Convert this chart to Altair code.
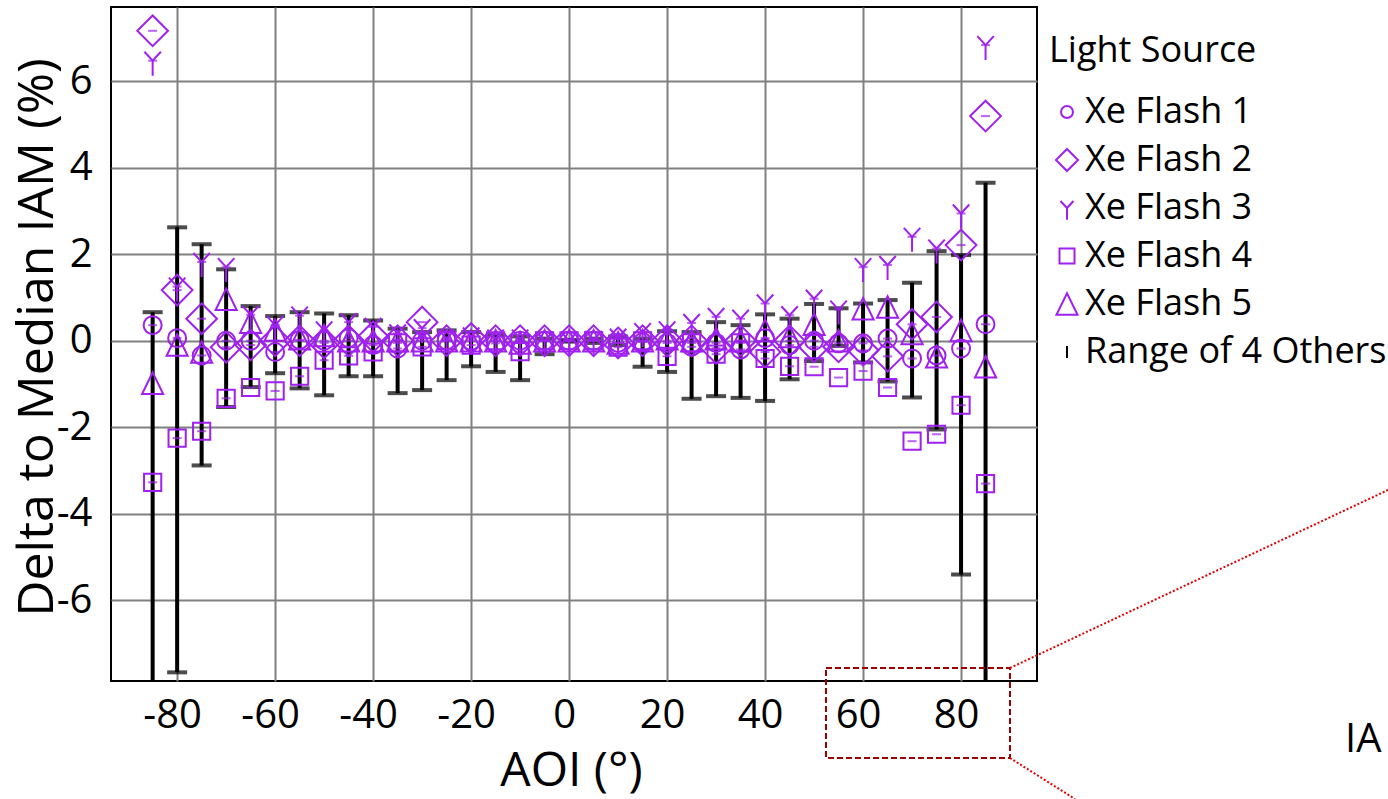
import altair as alt
import pandas as pd

FONT = "Open Sans"
PURPLE = "#a020f0"

# Angle of incidence (degrees)
aoi = [-85, -80, -75, -70, -65, -60, -55, -50, -45, -40, -35, -30, -25, -20, -15, -10, -5, 0,
       5, 10, 15, 20, 25, 30, 35, 40, 45, 50, 55, 60, 65, 70, 75, 80, 85]

# Delta to median IAM (%) for each light source
flash_1 = [0.36, 0.06, -0.34, 0.00, 0.00, -0.26, 0.02, 0.00, 0.06, -0.10, -0.18, 0.00, 0.01, 0.00,
           -0.06, 0.00, 0.00, 0.00, 0.00, -0.05, -0.03, -0.05, -0.14, -0.05, -0.20, 0.06, -0.10,
           0.00, -0.06, -0.06, 0.05, -0.41, -0.34, -0.18, 0.38]
flash_2 = [7.16, 1.17, 0.51, -0.15, -0.10, 0.00, 0.00, -0.05, 0.00, 0.09, 0.00, 0.43, 0.00, 0.05,
           0.00, 0.00, 0.00, 0.00, 0.00, -0.05, 0.00, 0.00, 0.00, -0.17, 0.00, -0.26, 0.00, -0.14,
           -0.14, -0.22, -0.36, 0.38, 0.55, 2.21, 5.19]
flash_3 = [6.47, 1.25, 1.82, 1.70, 0.60, 0.36, 0.58, 0.24, 0.43, 0.32, 0.17, 0.29, 0.05, 0.10,
           0.05, 0.05, 0.00, 0.00, 0.02, 0.07, 0.20, 0.24, 0.41, 0.55, 0.51, 0.86, 0.59, 0.97,
           0.72, 1.70, 1.75, 2.40, 2.13, 2.94, 6.83]
flash_4 = [-3.27, -2.25, -2.09, -1.33, -1.08, -1.16, -0.82, -0.45, -0.35, -0.26, -0.05, -0.14,
           0.00, -0.10, 0.00, -0.25, 0.00, 0.00, 0.00, -0.15, 0.00, -0.36, -0.05, -0.31, -0.05,
           -0.41, -0.59, -0.60, -0.85, -0.70, -1.08, -2.32, -2.16, -1.49, -3.30]
flash_5 = [-0.98, -0.10, -0.26, 0.96, 0.43, 0.25, 0.05, 0.12, 0.00, 0.00, 0.00, 0.00, 0.00, 0.00,
           0.00, -0.05, 0.00, 0.00, 0.00, -0.05, 0.00, 0.05, 0.00, 0.05, 0.00, 0.24, 0.10, 0.38,
           0.00, 0.74, 0.78, 0.17, -0.37, 0.24, -0.60]

# Spread (min / max) of the four other light sources
range_hi = [0.66, 2.62, 2.23, 1.65, 0.80, 0.57, 0.66, 0.63, 0.59, 0.47, 0.28, 0.20, 0.24, 0.20,
            0.13, 0.10, 0.05, 0.02, 0.05, 0.10, 0.05, 0.22, 0.20, 0.43, 0.36, 0.61, 0.51, 0.85,
            0.75, 0.86, 0.94, 1.34, 2.07, 1.98, 3.65]
range_lo = [-9.50, -7.66, -2.88, -1.53, -1.07, -0.75, -1.10, -1.26, -0.82, -0.82, -1.21, -1.14,
            -0.91, -0.59, -0.72, -0.91, -0.31, -0.02, -0.05, -0.10, -0.60, -0.72, -1.34, -1.28,
            -1.32, -1.39, -0.89, -0.47, -0.12, -0.50, -0.94, -1.31, -2.05, -5.40, -9.50]

series_names = ["Xe Flash 1", "Xe Flash 2", "Xe Flash 3", "Xe Flash 4", "Xe Flash 5"]
range_name = "Range of 4 Others"
x_ticks = [-80, -60, -40, -20, 0, 20, 40, 60, 80]
y_ticks = [-6, -4, -2, 0, 2, 4, 6]

# Marker outlines (unit box -1..1), sized so the legend symbols keep their proportions
shape_paths = [
    "M0.51,0A0.51,0.51,0,1,1,-0.51,0A0.51,0.51,0,1,1,0.51,0Z",        # circle
    "M0,-0.94L0.94,0L0,0.94L-0.94,0Z",                                # diamond
    "M0,0L0,1M0,0L-0.55,-0.6M0,0L0.55,-0.6",                          # tri-down "Y"
    "M-0.64,-0.64L0.64,-0.64L0.64,0.64L-0.64,0.64Z",                  # square
    "M0,-0.92L0.9,0.92L-0.9,0.92Z",                                   # triangle
    "M0,-0.51L0,0.51",                                                # range bar
]
marker_sizes = [1240, 550, 1115, 705, 582]

rows = []
for name, vals in zip(series_names, [flash_1, flash_2, flash_3, flash_4, flash_5]):
    for a, v in zip(aoi, vals):
        rows.append({"aoi": a, "series": name, "delta": v})
points = pd.DataFrame(rows)
dashes = points[points["series"] != "Xe Flash 5"]
ranges = pd.DataFrame({"aoi": aoi, "lo": range_lo, "hi": range_hi})

x_scale = alt.Scale(domain=[-93.5, 95.5], nice=False, zero=False)
y_scale = alt.Scale(domain=[-7.86, 7.71], nice=False, zero=False)

# plain hyphen for negative tick labels
hyphen_labels = "datum.value < 0 ? '-' + abs(datum.value) : '' + datum.value"

x_axis = alt.Axis(title="AOI (°)", values=x_ticks, grid=True, labelFontSize=40,
                  labelExpr=hyphen_labels, labelPadding=14, labelOffset=-5, titleFontSize=48,
                  titleX=460, titleY=104, titleBaseline="alphabetic", titleAlign="center")
y_axis = alt.Axis(title="Delta to Median IAM (%)", values=y_ticks, grid=True, labelFontSize=40,
                  labelExpr=hyphen_labels, labelPadding=19, titleFontSize=50, titleAngle=-90,
                  titleX=-74, titleY=330, titleBaseline="middle", titleAlign="center")

legend = alt.Legend(title="Light Source", orient="none", legendX=938, legendY=27,
                    titleFont=FONT, titleFontSize=36, titleFontWeight="normal",
                    titleColor="black", titlePadding=24, titleLimit=600,
                    labelFont=FONT, labelFontSize=36, labelColor="black", labelOffset=0,
                    labelLimit=600, symbolSize=550, symbolStrokeWidth=2, symbolOpacity=1,
                    rowPadding=12, padding=0)

X = alt.X("aoi:Q", scale=x_scale, axis=x_axis)

bars = alt.Chart(ranges).mark_rule(color="black", strokeWidth=4, clip=True).encode(
    x=X,
    y=alt.Y("lo:Q", scale=y_scale, axis=y_axis),
    y2="hi:Q",
)

caps = alt.Chart(ranges).transform_fold(["lo", "hi"], as_=["end", "val"]).mark_tick(
    orient="horizontal", color="black", size=20, thickness=4, clip=True
).encode(
    x=X,
    y=alt.Y("val:Q", scale=y_scale, axis=y_axis),
)

all_names = series_names + [range_name]
markers = alt.Chart(points).mark_point(filled=False, strokeWidth=2, opacity=1, clip=True).encode(
    x=X,
    y=alt.Y("delta:Q", scale=y_scale, axis=y_axis),
    shape=alt.Shape("series:N", scale=alt.Scale(domain=all_names, range=shape_paths), legend=legend),
    color=alt.Color("series:N", scale=alt.Scale(domain=all_names, range=[PURPLE] * 5 + ["black"]),
                    legend=legend),
    size=alt.Size("series:N", scale=alt.Scale(domain=series_names, range=marker_sizes), legend=None),
)

centre_marks = alt.Chart(dashes).mark_tick(
    orient="horizontal", color=PURPLE, size=9, thickness=2, clip=True
).encode(
    x=X,
    y=alt.Y("delta:Q", scale=y_scale, axis=y_axis),
)

one = pd.DataFrame({"k": [0]})

# Zoom call-out around the 60-85 degree axis labels
callout_box = alt.Chart(one).mark_rect(
    fillOpacity=0, stroke="#a00000", strokeWidth=2, strokeDash=[6, 3]
).encode(x=alt.value(715), x2=alt.value(899), y=alt.value(661), y2=alt.value(751))

callout_up = alt.Chart(one).mark_rule(color="#e00000", strokeWidth=2, strokeDash=[2, 2]).encode(
    x=alt.value(899), y=alt.value(661), x2=alt.value(1277), y2=alt.value(483))
callout_down = alt.Chart(one).mark_rule(color="#e00000", strokeWidth=2, strokeDash=[2, 2]).encode(
    x=alt.value(899), y=alt.value(751), x2=alt.value(964), y2=alt.value(792))

callout_label = alt.Chart(one).mark_text(
    text="IA", font=FONT, fontSize=40, align="left", baseline="alphabetic", color="black"
).encode(x=alt.value(1234), y=alt.value(745))

chart = alt.layer(
    bars, caps, markers, centre_marks, callout_box, callout_up, callout_down, callout_label
).properties(
    width=926, height=674,
    padding={"left": 111, "top": 7, "right": 351, "bottom": 118},
    autosize=alt.AutoSizeParams(type="none"),
    background="white",
).configure_view(
    stroke="black", strokeWidth=2
).configure_axis(
    gridColor="#808080", gridWidth=2, gridOpacity=1, domain=False, ticks=False, tickSize=0,
    labelColor="black", titleColor="black", labelFont=FONT, titleFont=FONT,
    titleFontWeight="normal", labelOverlap=False, labelFlush=False,
)

chart.save("out.html", embed_options={"renderer": "svg", "actions": False})
